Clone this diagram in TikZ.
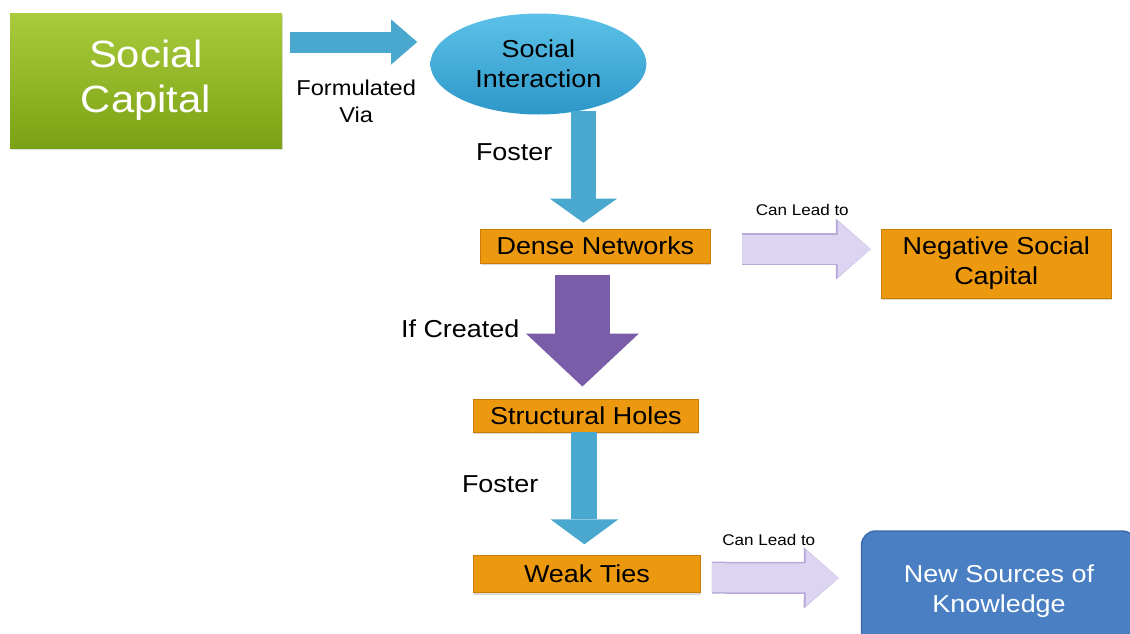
\documentclass[tikz,border=0pt]{standalone}
\usepackage{fontspec}
\setmainfont{Liberation Sans}[FakeStretch=1.1]
\usetikzlibrary{positioning,shapes.geometric,arrows.meta,shadows}

\definecolor{capgreenlight}{HTML}{A9CB3C}
\definecolor{capgreendark}{HTML}{7BA214}
\definecolor{interlight}{HTML}{5CC2E8}
\definecolor{interdark}{HTML}{2D97C8}
\definecolor{arrowblue}{HTML}{4AA8CE}
\definecolor{arrowpurple}{HTML}{7A5DA8}
\definecolor{arrowlav}{HTML}{DCD4F0}
\definecolor{lavedge}{HTML}{B7AAD8}
\definecolor{boxorange}{HTML}{EC9910}
\definecolor{boxedge}{HTML}{C97D08}
\definecolor{knowblue}{HTML}{4A80C3}
\definecolor{knowedge}{HTML}{3E6DAE}

\newcommand{\bigfont}{\fontsize{38}{45}\selectfont}
\newcommand{\boxfont}{\fontsize{24.5}{30}\selectfont}
\newcommand{\lblfont}{\fontsize{21.5}{27}\selectfont}
\newcommand{\smallfont}{\fontsize{15.5}{18}\selectfont}

\tikzset{
	greenbox/.style={rectangle, top color=capgreenlight, bottom color=capgreendark, text=white, font=\bigfont, align=center, minimum width=272pt, minimum height=135pt, inner sep=0pt, drop shadow={shadow xshift=1pt, shadow yshift=-2pt, opacity=0.25}},
	interaction/.style={ellipse, top color=interlight, bottom color=interdark, font=\boxfont, align=center, minimum width=216pt, minimum height=101pt, inner sep=0pt},
	orangebox/.style={rectangle, fill=boxorange, draw=boxedge, line width=0.8pt, font=\boxfont, align=center, inner sep=0pt, drop shadow={shadow xshift=1pt, shadow yshift=-2pt, opacity=0.3}},
	bluebox/.style={rectangle, rounded corners=14pt, fill=knowblue, draw=knowedge, line width=1.5pt, text=white, font=\boxfont, align=center, minimum width=275pt, minimum height=120pt, inner sep=0pt},
	lbl/.style={font=\boxfont, align=center, inner sep=0pt, outer sep=0pt},
	fatarrow/.style n args={4}{draw=#1, line width=#2, -{Triangle[width=#3, length=#4, line width=0pt]}},
	lavarrow/.style={preaction={draw=lavedge, line width=32pt, -{Triangle[width=61pt, length=35pt, line width=0pt]}}, fatarrow={arrowlav}{29pt}{56pt}{33pt}}
}

\begin{document}
\begin{tikzpicture}[x=1pt, y=1pt]
	\clip (0,0) rectangle (1130,-633);

	\node[greenbox] (sc) at (146,-80.5) {Social\\Capital};
	\node[interaction, right=148pt of sc, yshift=16.5pt] (si) {Social\\Interaction};
	\node[orangebox, minimum width=230pt, minimum height=34pt, below=114pt of si, xshift=57pt] (dn) {Dense Networks};
	\node[orangebox, minimum width=230pt, minimum height=69pt, right=170pt of dn.north east, anchor=north west] (nsc) {Negative Social\\Capital};
	\node[orangebox, minimum width=225pt, minimum height=33pt, below=135pt of dn, xshift=-9.5pt] (sh) {Structural Holes};
	\node[orangebox, minimum width=227pt, minimum height=37pt, below=123pt of sh, xshift=1pt] (wt) {Weak Ties};
	\node[bluebox, right=160pt of wt.north east, anchor=north west, yshift=25pt] (nsk) {New Sources of\\Knowledge};

	\draw[fatarrow={arrowblue}{21pt}{45pt}{26pt}] ([xshift=8pt, yshift=38.5pt]sc.east) -- node[lbl, font=\lblfont, xshift=2.5pt, yshift=-59.5pt] {Formulated\\Via} ([xshift=-13pt, yshift=22pt]si.west);
	\draw[fatarrow={arrowblue}{25pt}{67pt}{24pt}] ([xshift=45pt, yshift=4pt]si.south) -- node[lbl, left=31pt, yshift=14.5pt] {Foster} ([xshift=-12pt, yshift=6pt]dn.north);
	\draw[lavarrow] ([xshift=31pt, yshift=-3pt]dn.east) -- node[lbl, font=\smallfont, above=33pt, xshift=-4pt] {Can Lead to} ([xshift=-10pt, yshift=14.5pt]nsc.west);
	\draw[fatarrow={arrowpurple}{55pt}{113pt}{53pt}] ([xshift=-13pt, yshift=-11pt]dn.south) -- node[lbl, left=63pt, yshift=1.5pt] {If Created} ([xshift=-3.5pt, yshift=12pt]sh.north);
	\draw[fatarrow={arrowblue}{26pt}{68pt}{25pt}] ([xshift=-1.5pt]sh.south) -- node[lbl, left=46pt, yshift=4.5pt] {Foster} ([xshift=-2.5pt, yshift=11pt]wt.north);
	\draw[lavarrow] ([xshift=11pt, yshift=-3.5pt]wt.east) -- node[lbl, font=\smallfont, above=32pt, xshift=-6.5pt] {Can Lead to} ([xshift=-22pt, yshift=13pt]nsk.west);
\end{tikzpicture}
\end{document}
